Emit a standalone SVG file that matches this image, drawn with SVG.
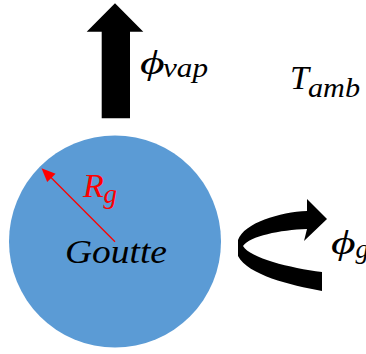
<svg xmlns="http://www.w3.org/2000/svg" width="366" height="354" viewBox="0 0 366 354">
<style>
.m{font-family:"Liberation Serif","DejaVu Serif",serif;font-style:italic;}
.big{font-size:34px;}
.sub{font-size:27px;}
</style>
<rect width="366" height="354" fill="#ffffff"/>
<g id="goutte">
<circle cx="115" cy="241.5" r="106" fill="#5B9BD5"/>
<text class="m" font-size="33px" x="65" y="262.5" textLength="102" lengthAdjust="spacingAndGlyphs">Goutte</text>
</g>
<g id="rayon">
<line x1="115" y1="241.7" x2="50" y2="176.5" stroke="#FF0000" stroke-width="1.3"/>
<polygon points="41.5,168.2 55.6,173.7 47.2,182.1" fill="#FF0000"/>
<text class="m big" fill="#FF0000" x="83" y="196.7">R</text>
<text class="m sub" fill="#FF0000" x="103.5" y="203">g</text>
</g>
<g id="phivap">
<polygon points="115,3.3 143.3,31.7 130,31.7 130,118.3 101.7,118.3 101.7,31.7 86.7,31.7" fill="#000000"/>
<text class="m big" transform="translate(140,74) scale(1.4,1)">ϕ</text>
<text class="m sub" x="163" y="77" textLength="45" lengthAdjust="spacingAndGlyphs">vap</text>
</g>
<g id="tamb">
<text class="m big" x="290" y="89.3">T</text>
<text class="m sub" x="308" y="97" textLength="52" lengthAdjust="spacingAndGlyphs">amb</text>
</g>
<g id="phig">
<path d="M307,211 C280,212 244,223 238,240 L238,256 C248,275 290,285 322,291 L322,272 C290,268 250,258 243,246 C250,236 280,230 307,229 L304,241 L327,219 L307,199 Z" fill="#000000"/>
<text class="m big" transform="translate(331,254) scale(1.4,1)">ϕ</text>
<text class="m sub" x="355.5" y="258">g</text>
</g>
</svg>
